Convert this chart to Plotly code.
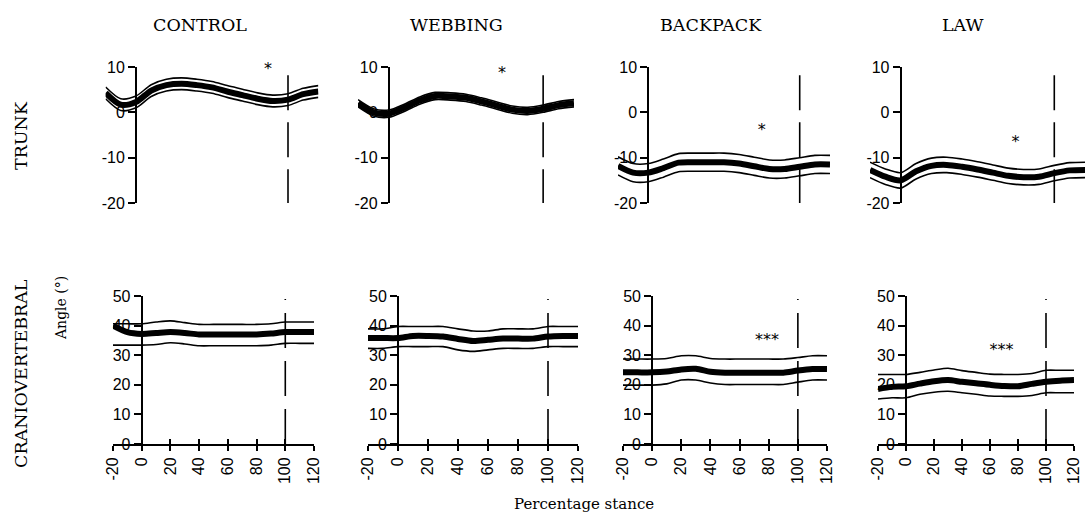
import plotly.graph_objects as go

# ---------------- data ----------------
x_pct = [-20, -10, 0, 10, 20, 30, 40, 50, 60, 70, 80, 90, 100, 110, 120]

conditions = ["CONTROL", "WEBBING", "BACKPACK", "LAW"]

# TRUNK angle (deg): mean, upper (+SD), lower (-SD)
trunk_mean_control = [4.3, 1.7, 2.3, 4.8, 6.0, 6.3, 6.0, 5.5, 4.6, 3.8, 3.0, 2.5, 2.8, 4.0, 4.6]
trunk_up_control = [5.6, 3.0, 3.6, 6.1, 7.3, 7.6, 7.3, 6.8, 5.9, 5.1, 4.3, 3.8, 4.1, 5.3, 5.9]
trunk_lo_control = [3.0, 0.4, 1.0, 3.5, 4.7, 5.0, 4.7, 4.2, 3.3, 2.5, 1.7, 1.2, 1.5, 2.7, 3.3]

trunk_mean_webbing = [2.0, 0.0, -0.3, 1.0, 2.6, 3.6, 3.5, 3.2, 2.4, 1.5, 0.6, 0.3, 0.8, 1.6, 2.0]
trunk_up_webbing = [2.8, 0.8, 0.5, 1.8, 3.4, 4.4, 4.3, 4.0, 3.2, 2.3, 1.4, 1.1, 1.6, 2.4, 2.8]
trunk_lo_webbing = [1.2, -0.8, -1.1, 0.2, 1.8, 2.8, 2.7, 2.4, 1.6, 0.7, -0.2, -0.5, 0.0, 0.8, 1.2]

trunk_mean_backpack = [-11.8, -13.3, -13.3, -12.3, -11.1, -11.0, -11.0, -11.0, -11.3, -11.9, -12.5, -12.5, -12.0, -11.5, -11.5]
trunk_up_backpack = [-9.8, -11.3, -11.3, -10.3, -9.1, -9.0, -9.0, -9.0, -9.3, -9.9, -10.5, -10.5, -10.0, -9.5, -9.5]
trunk_lo_backpack = [-13.8, -15.3, -15.3, -14.3, -13.1, -13.0, -13.0, -13.0, -13.3, -13.9, -14.5, -14.5, -14.0, -13.5, -13.5]

trunk_mean_law = [-12.7, -14.2, -15.0, -13.0, -11.8, -11.6, -12.0, -12.6, -13.3, -14.0, -14.3, -14.2, -13.4, -12.8, -12.7]
trunk_up_law = [-11.0, -12.5, -13.3, -11.3, -10.1, -9.9, -10.3, -10.9, -11.6, -12.3, -12.6, -12.5, -11.7, -11.1, -11.0]
trunk_lo_law = [-14.4, -15.9, -16.7, -14.7, -13.5, -13.3, -13.7, -14.3, -15.0, -15.7, -16.0, -15.9, -15.1, -14.5, -14.4]

# CRANIOVERTEBRAL angle (deg)
cv_mean_control = [40.0, 37.8, 37.2, 37.5, 37.8, 37.5, 37.0, 37.0, 37.0, 37.0, 37.0, 37.3, 37.8, 37.8, 37.8]
cv_up_control = [40.6, 40.6, 40.6, 41.2, 41.6, 41.0, 40.4, 40.4, 40.4, 40.4, 40.4, 40.6, 41.2, 41.2, 41.2]
cv_lo_control = [33.4, 33.4, 33.4, 33.6, 34.2, 33.8, 33.2, 33.2, 33.2, 33.2, 33.2, 33.4, 34.0, 34.0, 34.0]

cv_mean_webbing = [35.8, 35.8, 35.8, 36.5, 36.5, 36.3, 35.5, 34.8, 35.2, 35.6, 35.6, 35.6, 36.3, 36.5, 36.5]
cv_up_webbing = [38.9, 38.9, 39.7, 39.7, 39.7, 39.7, 38.9, 38.2, 38.2, 38.9, 38.9, 38.9, 39.7, 39.7, 39.7]
cv_lo_webbing = [32.3, 32.3, 32.9, 32.9, 32.9, 32.9, 31.8, 31.3, 31.8, 32.3, 32.3, 32.3, 32.9, 32.9, 32.9]

cv_mean_backpack = [24.2, 24.2, 24.2, 24.5, 25.2, 25.4, 24.4, 24.1, 24.1, 24.1, 24.1, 24.1, 24.8, 25.3, 25.3]
cv_up_backpack = [28.7, 28.7, 28.7, 28.9, 29.8, 29.8, 28.9, 28.7, 28.7, 28.7, 28.7, 28.7, 29.2, 29.8, 29.8]
cv_lo_backpack = [19.9, 19.9, 19.9, 20.3, 21.6, 21.6, 20.6, 20.1, 20.1, 20.1, 20.1, 20.1, 20.9, 21.6, 21.6]

cv_mean_law = [18.6, 19.3, 19.5, 20.4, 21.2, 21.6, 21.0, 20.5, 20.0, 19.6, 19.5, 20.3, 21.0, 21.4, 21.6]
cv_up_law = [23.5, 23.5, 23.5, 24.2, 25.0, 25.6, 24.8, 24.2, 23.6, 23.5, 23.5, 23.8, 24.9, 24.9, 24.9]
cv_lo_law = [15.2, 15.6, 15.6, 16.8, 17.5, 17.8, 17.3, 16.8, 16.2, 16.1, 16.1, 16.4, 17.3, 17.3, 17.3]

# significance markers
trunk_star_x = [86.8, 73.4, 75.0, 74.8]
trunk_star_y = [9.3, 8.5, -4.1, -6.8]
trunk_star_text = ["*", "*", "*", "*"]
cv_star_x = [None, None, 78.8, 68.2]
cv_star_y = [None, None, 34.8, 31.5]
cv_star_text = ["", "", "***", "***"]

# end of stance marker (100 %)
stance_end = 100
trunk_marker_top = 8.2
cv_marker_top = 49

# axis ticks
trunk_tickvals = [-20, -10, 0, 10]
trunk_ticktext = ["-20", "-10", "0", "10"]
cv_tickvals = [0, 10, 20, 30, 40, 50]
cv_ticktext = ["0", "10", "20", "30", "40", "50"]
x_tickvals = [-20, 0, 20, 40, 60, 80, 100, 120]
x_ticktext = ["-20", "0", "20", "40", "60", "80", "100", "120"]

trunk_series = [
    (trunk_mean_control, trunk_up_control, trunk_lo_control),
    (trunk_mean_webbing, trunk_up_webbing, trunk_lo_webbing),
    (trunk_mean_backpack, trunk_up_backpack, trunk_lo_backpack),
    (trunk_mean_law, trunk_up_law, trunk_lo_law),
]
cv_series = [
    (cv_mean_control, cv_up_control, cv_lo_control),
    (cv_mean_webbing, cv_up_webbing, cv_lo_webbing),
    (cv_mean_backpack, cv_up_backpack, cv_lo_backpack),
    (cv_mean_law, cv_up_law, cv_lo_law),
]

# ---------------- layout geometry ----------------
W, H = 1085, 515
XR = [-20, 120]
top_px = [(105.6, 318.4), (358, 574), (618, 830), (870, 1085)]
bot_px = [(113, 314), (368, 578), (623, 827), (878, 1074)]
top_ydom = [1 - 203 / H, 1 - 67 / H]
bot_ydom = [1 - 444 / H, 1 - 296 / H]

TICKFONT = dict(family="Liberation Sans", size=16, color="black")
SERIF = "DejaVu Serif"

fig = go.Figure()


def ax(kind, n):
    return kind if n == 1 else f"{kind}{n}"


def add_band(n, series):
    mean, up, lo = series
    for ys, w in ((up, 1.6), (lo, 1.6), (mean, 6)):
        fig.add_trace(go.Scatter(x=x_pct, y=ys, mode="lines",
                                 line=dict(color="black", width=w, shape="spline", smoothing=0.8),
                                 xaxis=ax("x", n), yaxis=ax("y", n),
                                 showlegend=False, hoverinfo="skip"))


def add_text(n, x, y, txt):
    fig.add_trace(go.Scatter(x=[x], y=[y], mode="text", text=[txt], cliponaxis=False,
                             textfont=dict(family="DejaVu Sans", size=16, color="black"),
                             xaxis=ax("x", n), yaxis=ax("y", n),
                             showlegend=False, hoverinfo="skip"))


for i in range(4):
    # ---- top row (trunk) ----
    n = i + 1
    d = [top_px[i][0] / W, min(top_px[i][1] / W, 1.0)]
    pos = d[0] + (0 - XR[0]) / (XR[1] - XR[0]) * (d[1] - d[0])
    fig.update_layout(**{
        ax("xaxis", n): dict(domain=d, range=XR, visible=False, anchor=ax("y", n),
                             automargin=False),
        ax("yaxis", n): dict(domain=top_ydom, range=[-20, 10], anchor="free", position=pos,
                             showline=True, linecolor="black", linewidth=2,
                             ticks="outside", ticklen=7, tickwidth=2, tickcolor="black",
                             tickvals=trunk_tickvals, ticktext=trunk_ticktext,
                             showgrid=False, zeroline=False, tickfont=TICKFONT,
                             automargin=False),
    })
    add_band(n, trunk_series[i])
    fig.add_trace(go.Scatter(x=[stance_end, stance_end], y=[trunk_marker_top, -20], mode="lines",
                             line=dict(color="black", width=1.6, dash="35px,12px"),
                             xaxis=ax("x", n), yaxis=ax("y", n), showlegend=False, hoverinfo="skip"))
    add_text(n, trunk_star_x[i], trunk_star_y[i], trunk_star_text[i])

    # ---- bottom row (craniovertebral) ----
    m = i + 5
    d = [bot_px[i][0] / W, min(bot_px[i][1] / W, 1.0)]
    pos = d[0] + (0 - XR[0]) / (XR[1] - XR[0]) * (d[1] - d[0])
    fig.update_layout(**{
        ax("xaxis", m): dict(domain=d, range=XR, anchor=ax("y", m),
                             showline=True, linecolor="black", linewidth=2,
                             ticks="outside", ticklen=5, tickwidth=2, tickcolor="black",
                             tickvals=x_tickvals, ticktext=x_ticktext, tickangle=-90,
                             ticklabeloverflow="allow",
                             showgrid=False, zeroline=False, tickfont=TICKFONT,
                             automargin=False),
        ax("xaxis", m + 4): dict(domain=d, range=XR, anchor=ax("y", m), overlaying=ax("x", m),
                                 showline=False, ticks="inside", ticklen=5, tickwidth=2,
                                 tickcolor="black", tickvals=x_tickvals, showticklabels=False,
                                 showgrid=False, zeroline=False, automargin=False),
        ax("yaxis", m): dict(domain=bot_ydom, range=[0, 50], anchor="free", position=pos,
                             showline=True, linecolor="black", linewidth=2,
                             ticks="outside", ticklen=7, tickwidth=2, tickcolor="black",
                             tickvals=cv_tickvals, ticktext=cv_ticktext,
                             showgrid=False, zeroline=False, tickfont=TICKFONT,
                             automargin=False),
    })
    add_band(m, cv_series[i])
    fig.add_trace(go.Scatter(x=[stance_end, stance_end], y=[0, cv_marker_top], mode="lines",
                             line=dict(color="black", width=1.6, dash="35px,13px"),
                             xaxis=ax("x", m), yaxis=ax("y", m), showlegend=False, hoverinfo="skip"))
    # invisible trace so the overlay tick axis is drawn
    fig.add_trace(go.Scatter(x=[XR[0]], y=[0], mode="markers", marker=dict(opacity=0),
                             xaxis=ax("x", m + 4), yaxis=ax("y", m),
                             showlegend=False, hoverinfo="skip"))
    if cv_star_text[i]:
        add_text(m, cv_star_x[i], cv_star_y[i], cv_star_text[i])

# ---------------- texts ----------------
title_x_px = [200, 456, 711, 963]
annotations = []
for i, name in enumerate(conditions):
    annotations.append(dict(text=name, x=title_x_px[i] / W, y=1 - 25 / H, xref="paper", yref="paper",
                            showarrow=False, xanchor="center", yanchor="middle",
                            font=dict(family=SERIF, size=17.5, color="black")))
annotations += [
    dict(text="TRUNK", x=21 / W, y=1 - 136 / H, xref="paper", yref="paper", textangle=-90,
         showarrow=False, xanchor="center", yanchor="middle",
         font=dict(family=SERIF, size=17.5, color="black")),
    dict(text="CRANIOVERTEBRAL", x=21 / W, y=1 - 374 / H, xref="paper", yref="paper", textangle=-90,
         showarrow=False, xanchor="center", yanchor="middle",
         font=dict(family=SERIF, size=17.5, color="black")),
    dict(text="Angle (°)", x=61 / W, y=1 - 308 / H, xref="paper", yref="paper", textangle=-90,
         showarrow=False, xanchor="center", yanchor="middle",
         font=dict(family=SERIF, size=14, color="black")),
    dict(text="Percentage stance", x=584 / W, y=1 - 504 / H, xref="paper", yref="paper",
         showarrow=False, xanchor="center", yanchor="middle",
         font=dict(family=SERIF, size=15, color="black")),
]

fig.update_layout(template="none", width=W, height=H, autosize=False,
                  margin=dict(l=0, r=0, t=0, b=0, pad=0),
                  paper_bgcolor="white", plot_bgcolor="rgba(0,0,0,0)",
                  annotations=annotations, showlegend=False)

# remove the browser's default 8px page margin so the figure sits at the window origin
fig.write_html("out.html", config={"displayModeBar": False},
               post_script="document.body.style.margin='0px';document.body.style.overflow='hidden';")
